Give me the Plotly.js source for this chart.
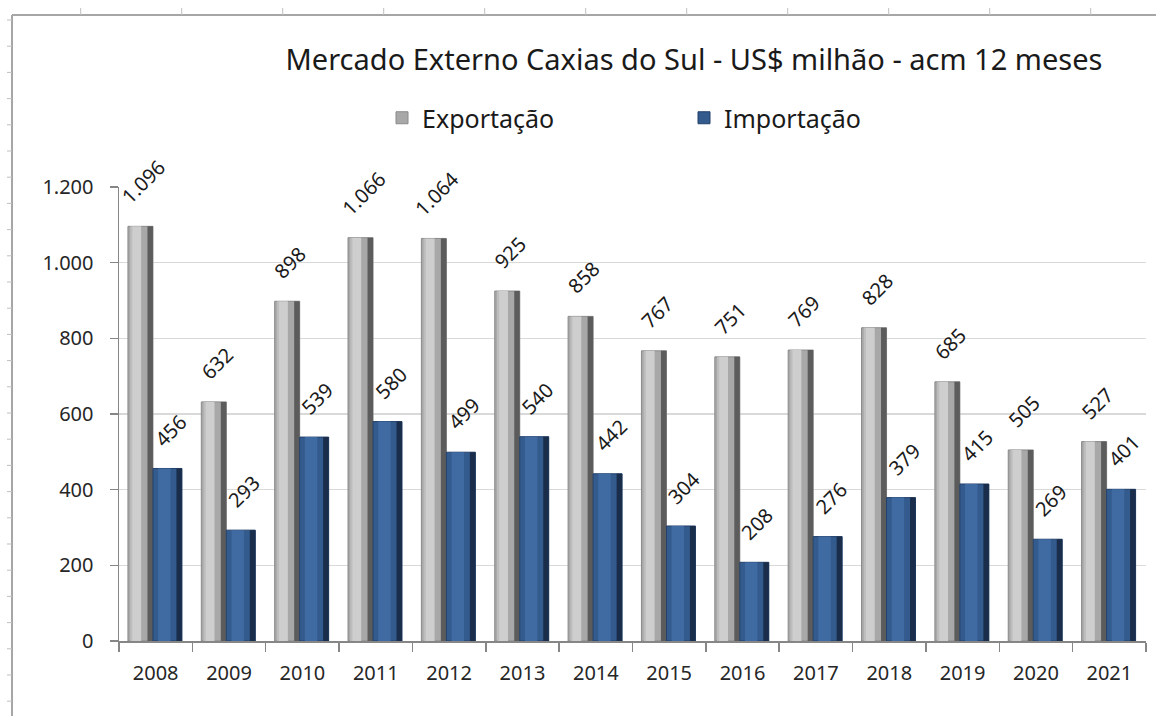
<!DOCTYPE html>
<html>
<head>
<meta charset="utf-8">
<script src="https://cdn.plot.ly/plotly-3.0.1.min.js"></script>
<style>html,body{margin:0;padding:0;background:#fff;}#chart{width:1156px;height:716px;}</style>
</head>
<body>
<div id="chart"></div>
<script>
const years = ['2008','2009','2010','2011','2012','2013','2014','2015','2016','2017','2018','2019','2020','2021'];
const exportacao = [1096, 632, 898, 1066, 1064, 925, 858, 767, 751, 769, 828, 685, 505, 527];
const importacao = [456, 293, 539, 580, 499, 540, 442, 304, 208, 276, 379, 415, 269, 401];
const yTicks = [0, 200, 400, 600, 800, 1000, 1200];

const FONT = 'Noto Sans, Open Sans, sans-serif';

const L = 119, R = 1146, T = 187, B = 641, W = 1156, H = 716;
const px = p => (p - L) / (R - L);
const py = q => (B - q) / (B - T);
const catPx = (R - L) / years.length;

const shapes = [];
const frameColor = '#a6a6a6';
// sheet frame (decoration)
shapes.push({type:'line', xref:'paper', yref:'paper', x0:px(12), x1:px(W), y0:py(15), y1:py(15), line:{color:frameColor, width:2}});
shapes.push({type:'line', xref:'paper', yref:'paper', x0:px(12), x1:px(12), y0:py(15), y1:py(H), line:{color:frameColor, width:2}});
for (let q = 20; q < H; q += 26.2) {
  shapes.push({type:'line', xref:'paper', yref:'paper', x0:px(7), x1:px(12), y0:py(q), y1:py(q), line:{color:'#bfbfbf', width:1}});
}
for (let p = 80.7; p < W; p += 101) {
  shapes.push({type:'line', xref:'paper', yref:'paper', x0:px(p), x1:px(p), y0:py(8), y1:py(15), line:{color:'#bfbfbf', width:1}});
}

const labelFont = {family: FONT, size: 20, color: '#1a1a1a'};

// bar geometry in category units
const gOff = -0.378, gW = 0.341;
const bOff = -0.037, bW = 0.395;

function shade(name, vals, off, w, color, group) {
  return {
    type: 'bar', name: name, x: years, y: vals, offset: off, width: w,
    marker: {color: color, line: {width: 0}}, showlegend: false, legendgroup: group,
    hoverinfo: 'skip'
  };
}

const traces = [
  {
    type: 'bar', name: 'Exportação', x: years, y: exportacao, offset: gOff, width: gW,
    legendgroup: 'exp',
    marker: {color: '#a8a8a8', line: {color: '#8a8a8a', width: 1}}
  },
  shade('Exportação', exportacao, gOff + 0.05, 0.13, '#cecece', 'exp'),
  shade('Exportação', exportacao, gOff + 0.03, 0.03, '#bdbdbd', 'exp'),
  shade('Exportação', exportacao, gOff + gW - 0.075, 0.075, '#5c5c5c', 'exp'),
  {
    type: 'bar', name: 'Importação', x: years, y: importacao, offset: bOff, width: bW,
    legendgroup: 'imp',
    marker: {color: '#345b8e', line: {color: '#23406a', width: 1}}
  },
  shade('Importação', importacao, bOff + 0.07, 0.17, '#3f6aa2', 'imp'),
  shade('Importação', importacao, bOff + bW - 0.075, 0.075, '#1a2e4b', 'imp')
];

// data labels (rotated, above each bar); x given as category index
const fmt = v => v.toLocaleString('de-DE');
const annotations = [];
function addLabels(vals, off, w) {
  const shift = (off + w / 2) * catPx + 3;
  vals.forEach((v, i) => {
    annotations.push({
      x: i, y: v, xref: 'x', yref: 'y', text: fmt(v), showarrow: false,
      textangle: -45, xanchor: 'center', yanchor: 'bottom', xshift: shift, yshift: 14,
      font: labelFont
    });
  });
}
addLabels(exportacao, gOff, gW);
addLabels(importacao, bOff, bW);

const layout = {
  width: W, height: H,
  margin: {l: L, r: W - R, t: T, b: H - B, pad: 0},
  paper_bgcolor: '#ffffff', plot_bgcolor: '#ffffff',
  separators: ',.',
  font: {family: FONT, color: '#262626'},
  barmode: 'overlay',
  title: {
    text: 'Mercado Externo Caxias do Sul - US$ milhão - acm 12 meses',
    font: {family: FONT, size: 29, color: '#1a1a1a'},
    xref: 'paper', x: px(694), xanchor: 'center',
    yref: 'container', y: 1 - 60 / H, yanchor: 'middle'
  },
  legend: {
    orientation: 'h', x: px(382), xanchor: 'left', y: py(118), yanchor: 'middle',
    font: {family: FONT, size: 25, color: '#1a1a1a'},
    entrywidth: 257, entrywidthmode: 'pixels', traceorder: 'normal'
  },
  xaxis: {
    type: 'category', range: [-0.5, years.length - 0.5],
    showline: true, linecolor: '#868686', linewidth: 1.5,
    ticks: 'outside', tickson: 'boundaries', ticklen: 9, tickcolor: '#868686', tickwidth: 1.5,
    tickfont: {family: FONT, size: 20, color: '#262626'}, ticklabelstandoff: 13,
    showgrid: false, zeroline: false
  },
  yaxis: {
    range: [0, 1200], tickvals: yTicks, tickformat: ',d',
    showline: true, linecolor: '#868686', linewidth: 1.5,
    ticks: 'outside', ticklen: 8, tickcolor: '#868686', tickwidth: 1.5,
    tickfont: {family: FONT, size: 20, color: '#262626'}, ticklabelstandoff: 12,
    showgrid: true, gridcolor: '#d9d9d9', gridwidth: 1.5, zeroline: false
  },
  shapes: shapes,
  annotations: annotations,
  showlegend: true
};

Plotly.newPlot('chart', traces, layout, {displayModeBar: false, staticPlot: true});
</script>
</body>
</html>
